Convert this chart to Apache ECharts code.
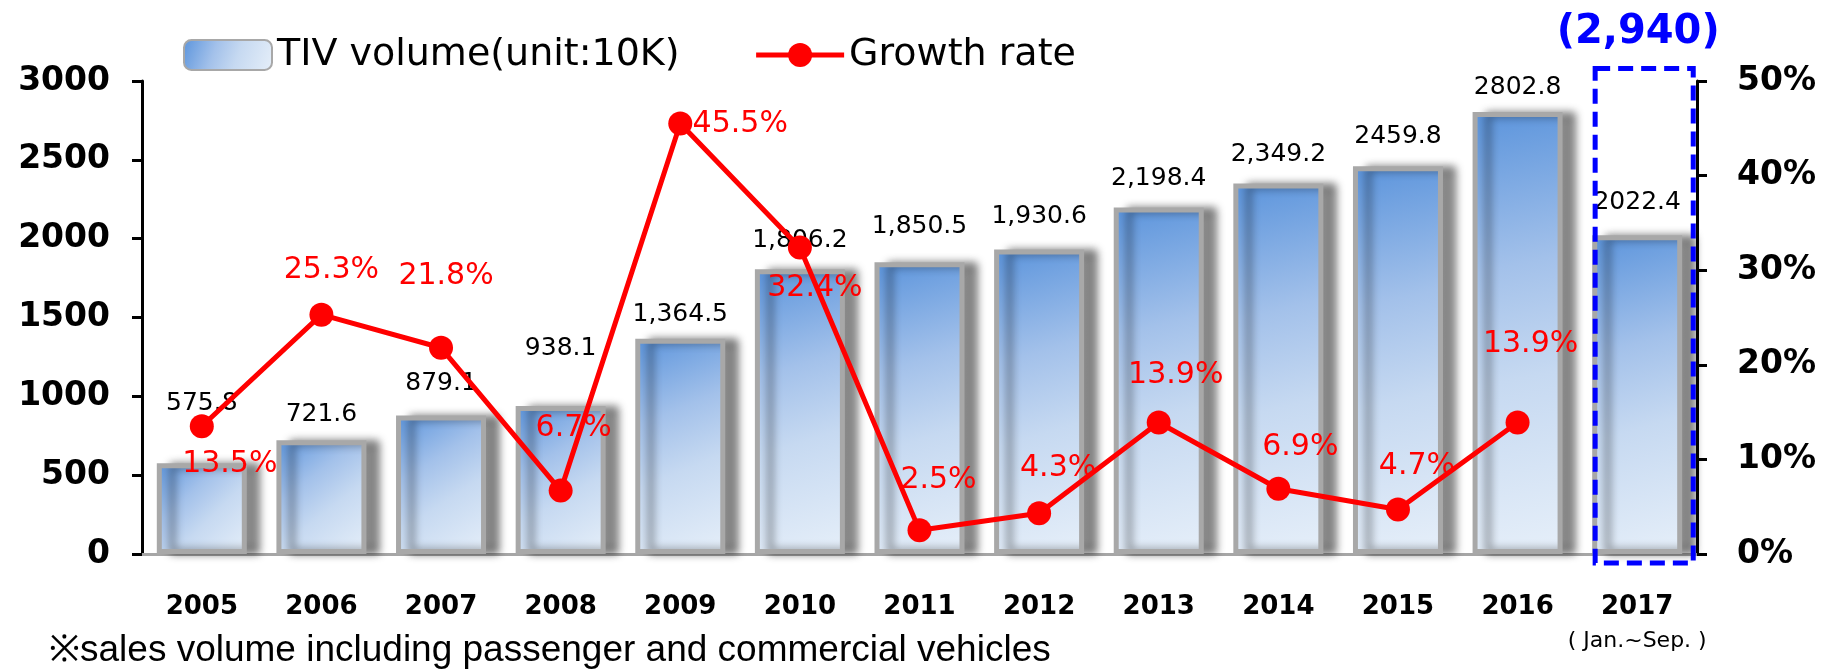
<!DOCTYPE html>
<html>
<head>
<meta charset="utf-8">
<script src="https://cdn.jsdelivr.net/npm/echarts@6/dist/echarts.min.js"></script>
<style>
  html, body { margin: 0; padding: 0; background: #fff; }
  #main { width: 1826px; height: 669px; }
</style>
</head>
<body>
<div id="main"></div>
<script>
// data
var years = ['2005', '2006', '2007', '2008', '2009', '2010', '2011', '2012', '2013', '2014', '2015', '2016', '2017'];
var volume = [575.8, 721.6, 879.1, 938.1, 1364.5, 1806.2, 1850.5, 1930.6, 2198.4, 2349.2, 2459.8, 2802.8, 2022.4];
var volumeText = ['575.8', '721.6', '879.1', '938.1', '1,364.5', '1,806.2', '1,850.5', '1,930.6', '2,198.4', '2,349.2', '2459.8', '2802.8', '2022.4'];
var growth = [13.5, 25.3, 21.8, 6.7, 45.5, 32.4, 2.5, 4.3, 13.9, 6.9, 4.7, 13.9, null];
var forecastYear = '2017';
var forecastValue = 2940;
var footnote = '※sales volume including passenger and commercial vehicles';

// label placement tweaks (px), not data
var volumeLabelGap = [47, 13, 19, 45, 12, 16, 23, 21, 16, 17, 17, 12, 20];
var growthLabelShift = [[28, 38], [10, -44], [5, -72], [13, -62], [60, 1], [15, 41], [19, -50],
  [19, -45], [17, -47], [22, -42], [19, -43], [13, -78], [0, 0]];

var numFont = 'DejaVu Sans';

var barData = volume.map(function (v, i) {
  return {
    value: v,
    label: { distance: volumeLabelGap[i], formatter: volumeText[i] }
  };
});

var lineData = growth.map(function (v, i) {
  return {
    value: v,
    label: { offset: growthLabelShift[i] }
  };
});

var chart = echarts.init(document.getElementById('main'));

var option = {
  animation: false,
  backgroundColor: '#fff',
  title: {
    text: footnote,
    left: 44,
    top: 627,
    textStyle: { fontSize: 37, fontWeight: 'normal', color: '#000', fontFamily: 'Liberation Sans' }
  },
  legend: {
    left: 178,
    top: 31,
    itemWidth: 88,
    itemHeight: 30,
    itemGap: 74,
    textStyle: { fontSize: 38, color: '#000', fontFamily: 'DejaVu Sans' },
    data: [
      { name: 'TIV volume(unit:10K)' },
      { name: 'Growth rate', lineStyle: { width: 5, color: '#ff0000' } }
    ]
  },
  grid: { left: 142, right: 129, top: 81, bottom: 115 },
  xAxis: {
    type: 'category',
    data: years,
    axisLine: { lineStyle: { color: '#a6a6a6', width: 3 } },
    axisTick: { length: 10, lineStyle: { color: '#a6a6a6', width: 2 } },
    axisLabel: {
      interval: 0,
      margin: 36,
      formatter: function (v) {
        return v === forecastYear ? '{a|' + v + '}\n{b|( Jan.~Sep. )}' : '{a|' + v + '}';
      },
      rich: {
        a: { fontSize: 26, fontWeight: 'bold', fontFamily: numFont, color: '#000', lineHeight: 34 },
        b: { fontSize: 22, fontWeight: 'normal', fontFamily: numFont, color: '#000', lineHeight: 34 }
      }
    }
  },
  yAxis: [
    {
      type: 'value',
      min: 0, max: 3000, interval: 500,
      splitLine: { show: false },
      axisLine: { show: true, lineStyle: { color: '#000', width: 3 } },
      axisTick: { show: true, length: 10, lineStyle: { color: '#000', width: 3 } },
      axisLabel: {
        margin: 32, color: '#000', fontSize: 33, fontWeight: 'bold', fontFamily: numFont,
        formatter: function (v) { return String(v); }
      }
    },
    {
      type: 'value',
      min: 0, max: 50, interval: 10,
      splitLine: { show: false },
      axisLine: { show: true, lineStyle: { color: '#000', width: 3 } },
      axisTick: { show: true, length: 10, lineStyle: { color: '#000', width: 3 } },
      axisLabel: { margin: 40, color: '#000', fontSize: 33, fontWeight: 'bold', fontFamily: numFont, formatter: '{value}%' }
    }
  ],
  series: [
    {
      name: 'TIV volume(unit:10K)',
      type: 'bar',
      data: barData,
      barWidth: 90,
      itemStyle: {
        color: new echarts.graphic.LinearGradient(0, 0, 1, 1, [
          { offset: 0, color: '#5b94dc' },
          { offset: 0.35, color: '#a3c1ea' },
          { offset: 0.6, color: '#c6d9f1' },
          { offset: 1, color: '#e6eff9' }
        ]),
        borderColor: '#a8a8a8',
        borderWidth: 5,
        shadowColor: 'rgba(0,0,0,0.45)',
        shadowBlur: 8,
        shadowOffsetX: 13,
        shadowOffsetY: 0
      },
      label: {
        show: true,
        position: 'top',
        color: '#000',
        fontSize: 25,
        fontFamily: numFont
      },
      z: 2
    },
    {
      name: 'Growth rate',
      type: 'line',
      yAxisIndex: 1,
      data: lineData,
      symbol: 'circle',
      symbolSize: 24,
      lineStyle: { color: '#ff0000', width: 5 },
      itemStyle: { color: '#ff0000' },
      label: {
        show: true,
        position: 'inside',
        color: '#ff0000',
        fontSize: 30,
        fontFamily: numFont,
        formatter: '{c}%'
      },
      z: 4
    },
    {
      type: 'custom',
      data: [[years.indexOf(forecastYear), forecastValue]],
      clip: false,
      silent: true,
      z: 5,
      renderItem: function (params, api) {
        var top = api.coord([api.value(0), api.value(1)]);
        var base = api.coord([api.value(0), 0]);
        var band = api.size([1, 0])[0];
        var half = band * 0.41;
        var cx = top[0] + 7;
        var y0 = top[1] - 22;
        var y1 = base[1] + 9;
        return {
          type: 'group',
          children: [
            {
              type: 'rect',
              shape: { x: cx - half, y: y0, width: half * 2, height: y1 - y0 },
              style: { fill: 'none', stroke: '#0000ff', lineWidth: 5, lineDash: [15, 8] }
            },
            {
              type: 'text',
              style: {
                text: '(2,940)',
                x: top[0] + 1,
                y: y0 - 36,
                align: 'center',
                verticalAlign: 'middle',
                fill: '#0000ff',
                fontSize: 40,
                fontWeight: 'bold',
                fontFamily: 'DejaVu Sans'
              }
            }
          ]
        };
      }
    }
  ]
};

chart.setOption(option);
</script>
</body>
</html>
